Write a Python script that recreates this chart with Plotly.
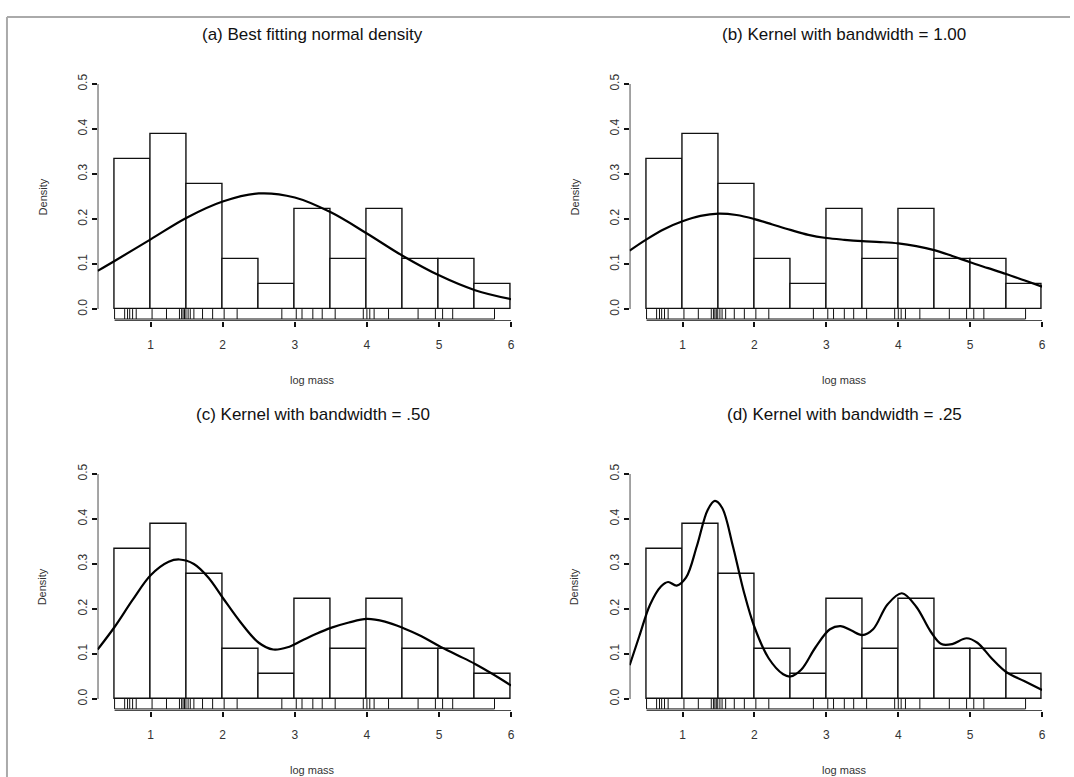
import plotly.graph_objects as go

# Histogram of log body mass (bin width 0.5, density scale)
bin_left = [0.5, 1.0, 1.5, 2.0, 2.5, 3.0, 3.5, 4.0, 4.5, 5.0, 5.5]
bin_density = [0.333, 0.389, 0.278, 0.111, 0.056, 0.222, 0.111, 0.222, 0.111, 0.111, 0.056]

# Individual observations shown as a rug
log_mass = [0.50, 0.64, 0.68, 0.71, 0.75, 0.80,
            1.02, 1.22, 1.40, 1.43, 1.45, 1.47, 1.49,
            1.52, 1.55, 1.60, 1.72, 1.86,
            2.02, 2.20,
            2.82,
            3.02, 3.10, 3.25, 3.38,
            3.56, 3.95,
            4.00, 4.04, 4.10, 4.30,
            4.71, 4.95,
            5.05, 5.19,
            5.77]

# (a) normal density
normal_x = [0.265, 0.5, 1.0, 1.5, 2.0, 2.5, 3.0, 3.5, 4.0, 4.5, 5.0, 5.5, 6.0]
normal_y = [0.085, 0.107, 0.155, 0.203, 0.239, 0.257, 0.248, 0.215, 0.168, 0.118, 0.075, 0.042, 0.022]

# (b) kernel, bandwidth 1.00
k100_x = [0.265, 0.5, 0.75, 1.0, 1.25, 1.5, 1.75, 2.0, 2.25, 2.5, 2.75, 3.0, 3.25, 3.5,
          3.75, 4.0, 4.25, 4.5, 4.75, 5.0, 5.25, 5.5, 5.75, 6.0]
k100_y = [0.130, 0.155, 0.178, 0.195, 0.207, 0.212, 0.209, 0.200, 0.188, 0.176, 0.165, 0.158,
          0.154, 0.151, 0.149, 0.146, 0.140, 0.131, 0.118, 0.104, 0.091, 0.078, 0.064, 0.050]

# (c) kernel, bandwidth .50
k050_x = [0.265, 0.5, 0.75, 1.0, 1.25, 1.4, 1.6, 1.8, 2.0, 2.25, 2.5, 2.7, 2.9, 3.1, 3.3,
          3.5, 3.75, 4.0, 4.25, 4.5, 4.75, 5.0, 5.25, 5.5, 5.75, 6.0]
k050_y = [0.110, 0.160, 0.220, 0.275, 0.305, 0.310, 0.300, 0.270, 0.225, 0.170, 0.125, 0.110,
          0.115, 0.130, 0.145, 0.158, 0.170, 0.178, 0.172, 0.158, 0.140, 0.118, 0.098, 0.078,
          0.055, 0.030]

# (d) kernel, bandwidth .25
k025_x = [0.265, 0.4, 0.55, 0.7, 0.8, 0.92, 1.05, 1.2, 1.35, 1.45, 1.55, 1.7, 1.85, 2.0, 2.2,
          2.4, 2.5, 2.65, 2.85, 3.05, 3.2, 3.35, 3.5, 3.65, 3.85, 4.05, 4.25, 4.45, 4.6, 4.75,
          4.95, 5.1, 5.3, 5.5, 5.75, 6.0]
k025_y = [0.075, 0.140, 0.210, 0.250, 0.260, 0.252, 0.270, 0.340, 0.420, 0.440, 0.425, 0.340,
          0.240, 0.160, 0.090, 0.055, 0.050, 0.065, 0.115, 0.155, 0.162, 0.152, 0.142, 0.155,
          0.210, 0.235, 0.205, 0.150, 0.122, 0.122, 0.135, 0.125, 0.090, 0.060, 0.040, 0.020]

panel_titles = ["(a) Best fitting normal density", "(b) Kernel with bandwidth = 1.00",
                "(c) Kernel with bandwidth = .50", "(d) Kernel with bandwidth = .25"]
curves = [(normal_x, normal_y), (k100_x, k100_y), (k050_x, k050_y), (k025_x, k025_y)]

x_ticks = [1, 2, 3, 4, 5, 6]
y_ticks = [0.0, 0.1, 0.2, 0.3, 0.4, 0.5]
y_tick_text = ["0.0", "0.1", "0.2", "0.3", "0.4", "0.5"]

W, H = 1074, 777
FONT = "Liberation Sans, Arial, Helvetica, sans-serif"
X_RANGE = [0.265, 6.0]
Y_RANGE = [-0.0263, 0.5]
RUG_LOW = -0.022

# pixel boxes of the four plot regions: (left, right, top, bottom, title_y)
boxes = [(98, 513, 75, 315, 25), (632, 1046, 75, 315, 25),
         (98, 513, 470, 710, 410), (632, 1046, 470, 710, 410)]

fig = go.Figure()
layout = {}
shapes = []
annotations = []

for i, (box, title, (cx, cy)) in enumerate(zip(boxes, panel_titles, curves)):
    n = "" if i == 0 else str(i + 1)
    xa, ya = "x" + n, "y" + n
    left, right, top, bottom, title_y = box

    centers = [b + 0.25 for b in bin_left]
    fig.add_trace(go.Bar(x=centers, y=bin_density, width=0.5,
                         marker=dict(color="white", line=dict(color="#111", width=1.4)),
                         xaxis=xa, yaxis=ya, showlegend=False, hoverinfo="skip"))

    rx, ry = [], []
    for v in log_mass:
        rx += [v, v, None]
        ry += [RUG_LOW, 0, None]
    fig.add_trace(go.Scatter(x=rx, y=ry, mode="lines", line=dict(color="#111", width=1),
                             xaxis=xa, yaxis=ya, showlegend=False, hoverinfo="skip"))
    fig.add_trace(go.Scatter(x=[min(log_mass), max(log_mass)], y=[RUG_LOW, RUG_LOW],
                             mode="lines", line=dict(color="#111", width=1),
                             xaxis=xa, yaxis=ya, showlegend=False, hoverinfo="skip"))

    fig.add_trace(go.Scatter(x=cx, y=cy, mode="lines", line=dict(color="#000", width=2.2, shape="spline", smoothing=1.0),
                             xaxis=xa, yaxis=ya, showlegend=False, hoverinfo="skip"))

    layout["xaxis" + n] = dict(domain=[left / W, right / W], anchor=ya, range=X_RANGE,
                               tickvals=x_ticks, ticks="outside", ticklen=5, tickwidth=1.5,
                               tickcolor="#111", showgrid=False, zeroline=False, showline=False,
                               tickfont=dict(family=FONT, size=12, color="#333"),
                               ticklabelstandoff=8)
    layout["yaxis" + n] = dict(domain=[1 - bottom / H, 1 - top / H], anchor=xa, range=Y_RANGE,
                               tickvals=y_ticks, ticktext=y_tick_text, tickangle=-90,
                               ticks="outside", ticklen=5, tickwidth=1.5, tickcolor="#111",
                               showgrid=False, zeroline=False, showline=False,
                               tickfont=dict(family=FONT, size=12, color="#333"))

    # axis lines
    shapes.append(dict(type="line", xref=xa, yref=ya, x0=0.5, x1=6.0, y0=Y_RANGE[0], y1=Y_RANGE[0],
                       line=dict(color="#111", width=1.5)))
    shapes.append(dict(type="line", xref=xa, yref=ya, x0=X_RANGE[0], x1=X_RANGE[0], y0=0, y1=0.5,
                       line=dict(color="#111", width=1.5)))

    mid_x = (left + 17 + right) / 2
    annotations.append(dict(text=title, x=mid_x / W, y=1 - title_y / H, xref="paper", yref="paper",
                            showarrow=False, xanchor="center", yanchor="middle",
                            font=dict(family=FONT, size=17, color="#111")))
    annotations.append(dict(text="log mass", x=mid_x / W, y=1 - (bottom + 60) / H, xref="paper",
                            yref="paper", showarrow=False, xanchor="center", yanchor="middle",
                            font=dict(family=FONT, size=11, color="#333")))
    annotations.append(dict(text="Density", x=(left - 55) / W, y=1 - ((top + bottom - 12) / 2) / H,
                            xref="paper", yref="paper", showarrow=False, textangle=-90,
                            xanchor="center", yanchor="middle",
                            font=dict(family=FONT, size=11, color="#333")))

# outer frame
shapes.append(dict(type="line", xref="paper", yref="paper", x0=7 / W, x1=1, y0=1 - 7 / H, y1=1 - 7 / H,
                   line=dict(color="#aaa", width=2)))
shapes.append(dict(type="line", xref="paper", yref="paper", x0=7 / W, x1=7 / W, y0=0, y1=1 - 7 / H,
                   line=dict(color="#aaa", width=2)))

fig.update_layout(width=W, height=H, margin=dict(l=0, r=0, t=0, b=0),
                  paper_bgcolor="white", plot_bgcolor="white", bargap=0,
                  shapes=shapes, annotations=annotations, **layout)

fig.write_html("out.html")
